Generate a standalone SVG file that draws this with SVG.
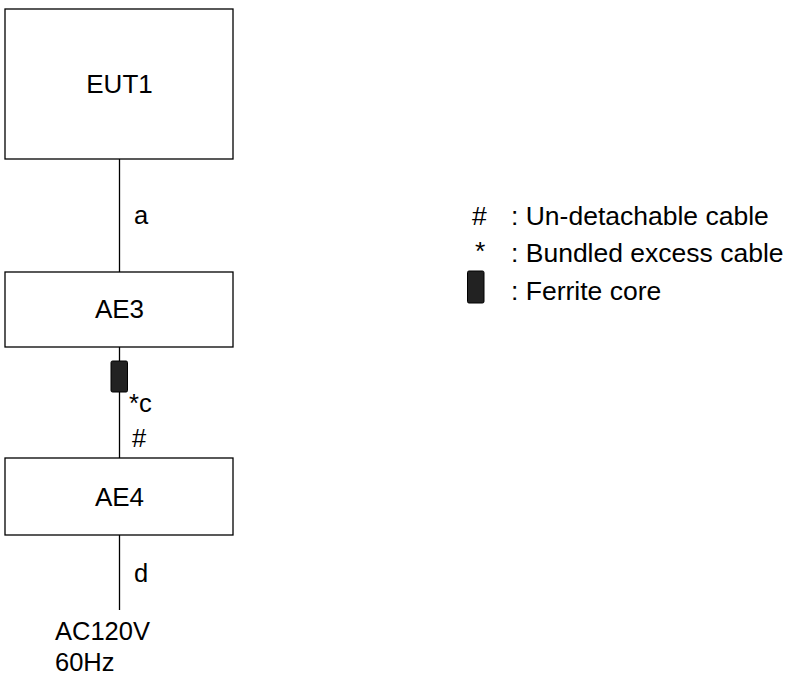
<svg xmlns="http://www.w3.org/2000/svg" width="787" height="676" viewBox="0 0 787 676">
<style>
.box{fill:#fff;stroke:#000;stroke-width:1.3}
.ln{stroke:#000;stroke-width:1.3;fill:none}
.t{font-family:"Liberation Sans",Arial,sans-serif;font-size:25.5px;fill:#000}
.bl{font-size:26px}
.lg{font-size:26.5px}
.m{text-anchor:middle}
.core{fill:#222;stroke:#000;stroke-width:1}
</style>
<rect width="787" height="676" fill="#fff"/>
<g id="connectors">
<line class="ln" x1="119.5" y1="159" x2="119.5" y2="272"/>
<line class="ln" x1="119.5" y1="347" x2="119.5" y2="458"/>
<line class="ln" x1="119.5" y1="535" x2="119.5" y2="610"/>
<rect class="core" x="111" y="361" width="16.5" height="31" rx="1.5"/>
<text class="t" x="134" y="224">a</text>
<text class="t" x="129" y="412">*c</text>
<text class="t" x="132" y="447">#</text>
<text class="t" x="134" y="582">d</text>
</g>
<g id="EUT1">
<rect class="box" x="5" y="9" width="228" height="150"/>
<text class="t bl m" x="119.5" y="93">EUT1</text>
</g>
<g id="AE3">
<rect class="box" x="5" y="272" width="228" height="75"/>
<text class="t bl m" x="119.5" y="318">AE3</text>
</g>
<g id="AE4">
<rect class="box" x="5" y="458" width="228" height="77"/>
<text class="t bl m" x="119.5" y="506">AE4</text>
</g>
<g id="power">
<text class="t" x="55" y="640">AC120V</text>
<text class="t" x="55" y="671">60Hz</text>
</g>
<g id="legend">
<text class="t lg" x="472" y="225">#</text>
<text class="t lg" x="511" y="225">: Un-detachable cable</text>
<text class="t lg" x="475" y="260">*</text>
<text class="t lg" x="511" y="262">: Bundled excess cable</text>
<rect class="core" x="467.5" y="271" width="16.5" height="32" rx="1.5"/>
<text class="t lg" x="511" y="300">: Ferrite core</text>
</g>
</svg>
